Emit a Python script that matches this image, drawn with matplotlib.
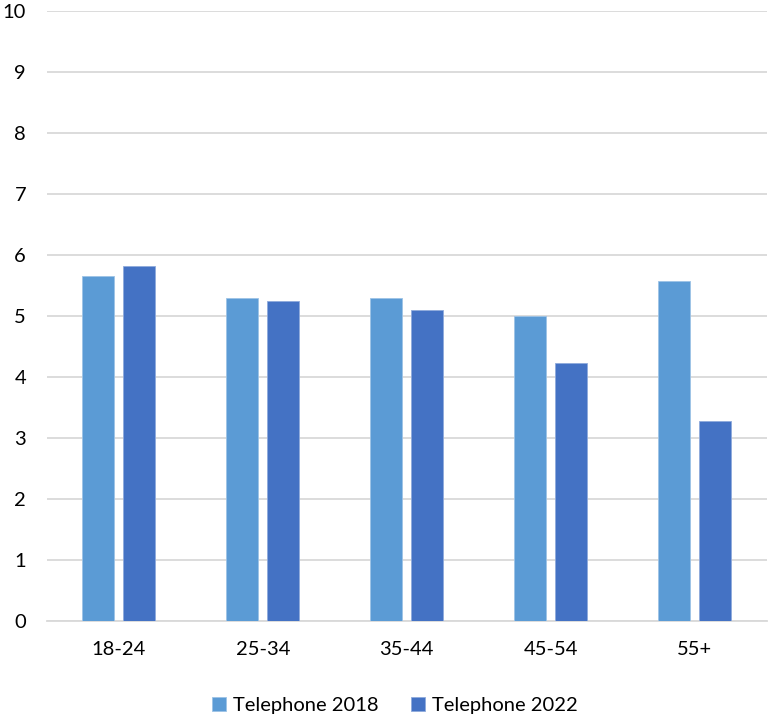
import matplotlib
matplotlib.use("Agg")
import matplotlib.pyplot as plt
import numpy as np

categories = ["18-24", "25-34", "35-44", "45-54", "55+"]
tel_2018 = [5.65, 5.30, 5.29, 5.00, 5.57]
tel_2022 = [5.82, 5.24, 5.09, 4.23, 3.28]

C2018 = "#5B9BD5"
C2022 = "#4472C4"
GRID = "#D9D9D9"

plt.rcParams["font.family"] = ["Lato", "DejaVu Sans"]

fig = plt.figure(figsize=(7.69, 7.18), dpi=100)
ax = fig.add_axes([0.061, 0.135, 0.936, 0.85])

x = np.arange(len(categories))
w = 0.222
off = 0.142
ax.bar(x - off, tel_2018, w, color=C2018, edgecolor="#9DC3E6", linewidth=0.6,
       label="Telephone 2018", zorder=3)
ax.bar(x + off, tel_2022, w, color=C2022, edgecolor="#8FAADC", linewidth=0.6,
       label="Telephone 2022", zorder=3)

ax.set_xlim(-0.5, len(categories) - 0.5)
ax.set_ylim(0, 10)
ax.set_yticks(range(0, 11))
ax.set_xticks(x)
ax.set_xticklabels(categories)
ax.yaxis.grid(True, color=GRID, lw=1.3, zorder=0)
for s in ["top", "right", "left"]:
    ax.spines[s].set_visible(False)
ax.spines["bottom"].set_color(GRID)
ax.spines["bottom"].set_linewidth(1.3)
ax.tick_params(axis="both", length=0, labelsize=14.5, colors="#000000")
ax.tick_params(axis="y", pad=15)
ax.tick_params(axis="x", pad=14)

fig.legend(*ax.get_legend_handles_labels(), loc="center",
           bbox_to_anchor=(0.514, 0.018), ncol=2, frameon=False,
           fontsize=14.5, handlelength=0.7, handleheight=0.7, handletextpad=0.35,
           columnspacing=1.6, borderaxespad=0)

fig.savefig("out.png", dpi=100)
